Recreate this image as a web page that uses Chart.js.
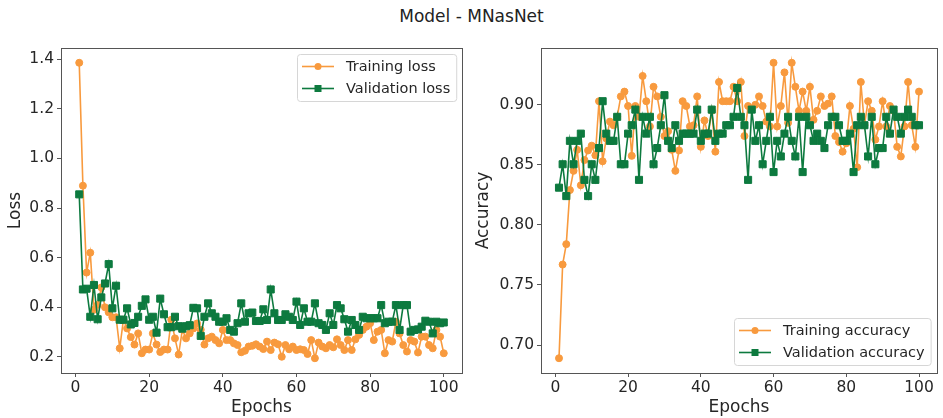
<!DOCTYPE html>
<html><head><meta charset="utf-8">
<script src="https://cdn.jsdelivr.net/npm/chart.js@4.4.0/dist/chart.umd.min.js"></script>
<style>
body{margin:0;background:#fff;width:943px;height:418px;overflow:hidden;position:relative;font-family:"DejaVu Sans",sans-serif}
#title{position:absolute;top:6px;left:0;width:943px;text-align:center;font-size:17px;color:#222}
#left{position:absolute;left:0;top:0}
#right{position:absolute;left:470px;top:0}
</style></head><body>
<div id="title">Model - MNasNet</div>
<canvas id="left" width="470" height="418"></canvas>
<canvas id="right" width="473" height="418"></canvas>
<script>
// epochs 1..100
const epochs = Array.from({length:100},(_,i)=>i+1);
const epochTicks = [0,20,40,60,80,100];
const lossTicks = [0.2,0.4,0.6,0.8,1.0,1.2,1.4];
const accTicks = [0.70,0.75,0.80,0.85,0.90];

const trainLoss = [1.385,0.89,0.54,0.62,0.39,0.41,0.48,0.40,0.38,0.36,
  0.36,0.235,0.35,0.315,0.28,0.25,0.295,0.215,0.23,0.23,
  0.295,0.25,0.22,0.23,0.23,0.35,0.275,0.21,0.31,0.275,
  0.295,0.315,0.335,0.31,0.25,0.275,0.282,0.268,0.255,0.309,
  0.268,0.268,0.255,0.248,0.219,0.225,0.242,0.245,0.251,0.242,
  0.232,0.262,0.228,0.258,0.251,0.201,0.248,0.231,0.242,0.228,
  0.231,0.228,0.212,0.268,0.195,0.258,0.242,0.235,0.248,0.239,
  0.271,0.248,0.228,0.268,0.228,0.271,0.289,0.309,0.322,0.336,
  0.268,0.302,0.309,0.215,0.268,0.262,0.342,0.295,0.248,0.222,
  0.268,0.262,0.218,0.282,0.282,0.248,0.235,0.309,0.282,0.215];
const valLoss = [0.855,0.472,0.475,0.362,0.49,0.352,0.44,0.496,0.574,0.396,
  0.487,0.35,0.35,0.396,0.331,0.337,0.362,0.406,0.432,0.35,
  0.362,0.298,0.435,0.372,0.32,0.32,0.362,0.324,0.314,0.324,
  0.328,0.398,0.396,0.285,0.362,0.416,0.376,0.362,0.342,0.342,
  0.356,0.309,0.302,0.336,0.416,0.342,0.376,0.379,0.345,0.345,
  0.392,0.349,0.472,0.376,0.349,0.349,0.372,0.362,0.349,0.423,
  0.329,0.396,0.342,0.342,0.416,0.336,0.329,0.309,0.376,0.329,
  0.409,0.396,0.352,0.302,0.349,0.329,0.309,0.362,0.356,0.356,
  0.356,0.356,0.409,0.336,0.342,0.342,0.409,0.309,0.409,0.409,
  0.302,0.309,0.311,0.322,0.346,0.342,0.295,0.342,0.336,0.339];
const trainAcc = [0.689,0.767,0.784,0.829,0.845,0.8625,0.833,0.854,0.862,0.866,
  0.858,0.903,0.853,0.872,0.886,0.883,0.89,0.907,0.911,0.899,
  0.8575,0.899,0.89,0.924,0.903,0.882,0.915,0.907,0.89,0.874,
  0.878,0.8625,0.845,0.862,0.903,0.899,0.882,0.883,0.907,0.865,
  0.887,0.874,0.895,0.861,0.919,0.903,0.903,0.903,0.915,0.903,
  0.919,0.874,0.899,0.896,0.90,0.907,0.899,0.886,0.882,0.935,
  0.882,0.899,0.927,0.885,0.935,0.915,0.895,0.911,0.895,0.915,
  0.8875,0.895,0.907,0.899,0.901,0.907,0.874,0.869,0.861,0.868,
  0.899,0.880,0.848,0.919,0.883,0.903,0.895,0.871,0.882,0.903,
  0.882,0.899,0.895,0.865,0.857,0.882,0.919,0.883,0.865,0.911];
const valAcc = [0.831,0.8505,0.824,0.870,0.8505,0.870,0.876,0.8375,0.824,0.8505,
  0.8375,0.864,0.903,0.876,0.870,0.870,0.890,0.8505,0.8505,0.876,
  0.883,0.896,0.8375,0.890,0.876,0.890,0.8505,0.864,0.883,0.908,
  0.870,0.864,0.883,0.870,0.876,0.876,0.876,0.876,0.896,0.870,
  0.876,0.876,0.896,0.870,0.876,0.876,0.883,0.883,0.890,0.914,
  0.890,0.883,0.8375,0.896,0.870,0.883,0.8505,0.870,0.890,0.844,
  0.870,0.857,0.876,0.890,0.870,0.857,0.890,0.844,0.890,0.883,
  0.870,0.876,0.870,0.864,0.883,0.890,0.890,0.883,0.870,0.870,
  0.876,0.844,0.883,0.890,0.883,0.857,0.890,0.8505,0.864,0.864,
  0.890,0.876,0.896,0.890,0.876,0.890,0.896,0.890,0.883,0.883];

const ORANGE = '#f89a3e', GREEN = '#0d7a3f';
const TXT = '#262626', SPINE = '#555';
Chart.defaults.font.family = '"DejaVu Sans", sans-serif';

// matplotlib style 5% margins
function range(arrs){
  const all = [].concat(...arrs);
  const lo = Math.min(...all), hi = Math.max(...all), m = (hi-lo)*0.05;
  return [lo-m, hi+m];
}
const xr = range([epochs]);

function series(label, vals, color, style, r, order){
  return {label, order,
    data: epochs.map((e,i)=>({x:e, y:vals[i]})),
    borderColor: color, backgroundColor: color,
    pointBackgroundColor: color, pointBorderColor: color,
    pointStyle: style, pointRadius: r, pointBorderWidth: 1,
    borderWidth: 1.6, tension: 0};
}

// box around plot + legend in the corner
const frame = {
  id:'frame',
  afterDatasetsDraw(chart, args, opts){
    const {ctx, chartArea:a} = chart;
    ctx.save();
    ctx.strokeStyle = SPINE; ctx.lineWidth = 1;
    ctx.strokeRect(Math.round(a.left)+0.5, Math.round(a.top)+0.5, Math.round(a.right-a.left), Math.round(a.bottom-a.top));
    ctx.font = '14.5px "DejaVu Sans"';
    const items = chart.data.datasets;
    const tw = Math.max(...items.map(d=>ctx.measureText(d.label).width));
    const w = 5+32+12+tw+6, h = 47;
    const x = Math.round(a.right - 6 - w);
    const y = Math.round(opts.place==='top' ? a.top+6 : a.bottom-8-h);
    ctx.beginPath();
    ctx.roundRect(x+0.5, y+0.5, w, h, 3);
    ctx.fillStyle = 'rgba(255,255,255,0.85)'; ctx.fill();
    ctx.strokeStyle = '#d6d6d6'; ctx.stroke();
    items.forEach((d,i)=>{
      const cy = y + 12.5 + i*22;
      ctx.strokeStyle = d.borderColor; ctx.lineWidth = 1.6;
      ctx.beginPath(); ctx.moveTo(x+5, cy); ctx.lineTo(x+37, cy); ctx.stroke();
      ctx.fillStyle = d.borderColor;
      ctx.beginPath();
      if (d.pointStyle==='rect') ctx.rect(x+21-3.5, cy-3.5, 7, 7);
      else ctx.arc(x+21, cy, 3.5, 0, Math.PI*2);
      ctx.fill();
      ctx.fillStyle = TXT; ctx.textBaseline = 'middle';
      ctx.fillText(d.label, x+49, cy+1);
    });
    ctx.restore();
  }
};

function axes(yr, yTicks, dec, yTitle, titlePad, yWidth){
  const tickFont = {size:15.5};
  return {
    x:{type:'linear', min:xr[0], max:xr[1],
      afterBuildTicks:s=>{ s.ticks = epochTicks.map(v=>({value:v})); },
      afterFit:s=>{ s.height = 45; },
      grid:{drawOnChartArea:false, tickLength:4, color:SPINE},
      border:{display:false},
      ticks:{font:tickFont, color:TXT, padding:2, maxRotation:0, autoSkip:false},
      title:{display:true, text:'Epochs', font:{size:17}, color:TXT, padding:{top:0,bottom:0}}},
    y:{type:'linear', min:yr[0], max:yr[1],
      afterBuildTicks:s=>{ s.ticks = yTicks.map(v=>({value:v})); },
      afterFit:s=>{ s.width = yWidth; },
      grid:{drawOnChartArea:false, tickLength:4, color:SPINE},
      border:{display:false},
      ticks:{font:tickFont, color:TXT, padding:3, callback:v=>v.toFixed(dec)},
      title:{display:true, text:yTitle, font:{size:17}, color:TXT, padding:{top:titlePad,bottom:0}}}
  };
}

function makeChart(id, sets, scales, pad, place){
  return new Chart(document.getElementById(id), {
    type:'line',
    data:{datasets:sets},
    options:{responsive:false, animation:false, devicePixelRatio:1,
      layout:{padding:pad},
      scales,
      plugins:{legend:{display:false}, tooltip:{enabled:false}, frame:{place}}},
    plugins:[frame]
  });
}

makeChart('left',
  [series('Training loss', trainLoss, ORANGE, 'circle', 3.5, 2),
   series('Validation loss', valLoss, GREEN, 'rect', 5, 1)],
  axes(range([trainLoss, valLoss]), lossTicks, 1, 'Loss', 5, 61),
  {top:48, right:8, left:0, bottom:0}, 'top');

makeChart('right',
  [series('Training accuracy', trainAcc, ORANGE, 'circle', 3.5, 2),
   series('Validation accuracy', valAcc, GREEN, 'rect', 5, 1)],
  axes(range([trainAcc, valAcc]), accTicks, 2, 'Accuracy', 3, 71),
  {top:48, right:3, left:0, bottom:0}, 'bottom');
</script>
</body></html>
